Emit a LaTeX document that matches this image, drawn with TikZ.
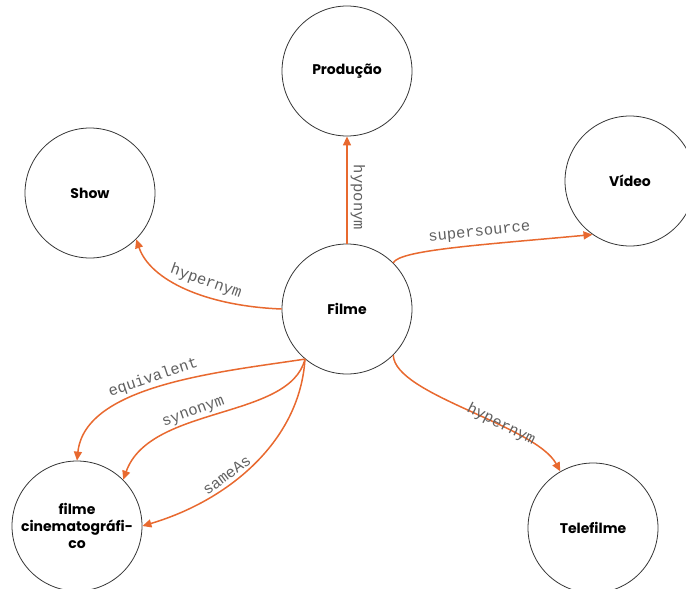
\documentclass[tikz,border=0pt]{standalone}
\usepackage{fontspec}
\setmainfont{Poppins}
\newfontfamily\monofont{Liberation Mono}
\usetikzlibrary{arrows.meta}
\definecolor{edgeor}{HTML}{E8692F}
\definecolor{lblgray}{HTML}{606060}
\tikzset{
  concept/.style={circle, draw=black!80, line width=0.8pt, minimum size=130pt, inner sep=0pt, align=center, font=\fontsize{14}{17}\selectfont\bfseries},
  rel/.style={draw=edgeor, line width=1.5pt, -{Triangle[length=9pt,width=8pt]}},
  lbl/.style={font=\monofont\fontsize{15.5}{15.5}\selectfont, text=lblgray, inner sep=1pt}
}
\begin{document}
\begin{tikzpicture}[x=1pt,y=-1pt]
\useasboundingbox (0,0) rectangle (686,589);
\node[concept] (prod) at (347,71) {Produção};
\node[concept] (show) at (90,193) {Show};
\node[concept] (video) at (630,181) {Vídeo};
\node[concept] (filme) at (347,309) {Filme};
\node[concept] (cine) at (77,526) {filme\\cinematográfi-\\co};
\node[concept] (tele) at (593,528) {Telefilme};

\draw[rel] (filme.north) -- (prod.south) node[lbl, pos=0.43, right=2pt, rotate=-90, anchor=south] {hyponym};
\draw[rel] (filme.west) .. controls (205,306) and (150,280) .. (show.-45) node[lbl, pos=0.4, sloped, above, yshift=5pt] {hypernym};
\draw[rel] (filme.45) .. controls (400,250) and (480,245) .. (video.-125) node[lbl, pos=0.62, sloped, above, yshift=4pt] {supersource};
\draw[rel] (filme.-45) .. controls (395,395) and (535,425) .. (tele.120) node[lbl, pos=0.64, sloped, above, yshift=-7pt] {hypernym};
\draw[rel] (filme.-130) .. controls (220,372) and (85,385) .. (cine.north) node[lbl, pos=0.52, sloped, above, yshift=2pt] {equivalent};
\draw[rel] (filme.-130) .. controls (290,420) and (150,405) .. (cine.45) node[lbl, pos=0.59, sloped, above, yshift=2pt] {synonym};
\draw[rel] (filme.-130) .. controls (300,440) and (230,500) .. (cine.east) node[lbl, pos=0.62, sloped, above, yshift=2pt] {sameAs};
\end{tikzpicture}
\end{document}
